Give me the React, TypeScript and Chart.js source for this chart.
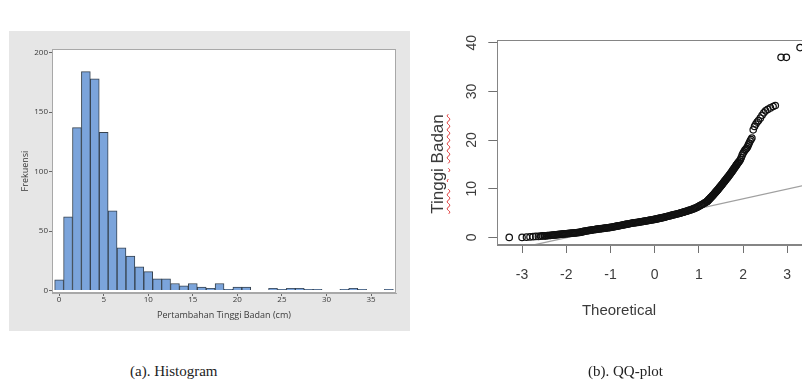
import React, { useEffect, useRef } from "react";
import { Chart, registerables } from "chart.js";

Chart.register(...registerables);

// ---------- Histogram data ----------
const histBinCenters = [
  0, 1, 2, 3, 4, 5, 6, 7, 8, 9,
  10, 11, 12, 13, 14, 15, 16, 17, 18, 19,
  20, 21, 22, 23, 24, 25, 26, 27, 28, 29,
  30, 31, 32, 33, 34, 35, 36, 37,
];
const histCounts = [
  9, 62, 137, 184, 178, 133, 67, 36, 29, 20,
  16, 10, 10, 6, 4, 6, 3, 2, 6, 1,
  3, 3, 0, 0, 2, 1, 2, 2, 1, 1,
  0, 0, 1, 2, 1, 0, 0, 1,
];
const histXTicks = [0, 5, 10, 15, 20, 25, 30, 35];
const histYTicks = [0, 50, 100, 150, 200];

// ---------- QQ-plot data (theoretical quantile, sample value) ----------
const qqTheoretical = [
  // lower tail
  -3.29, -3.0, -2.9, -2.82, -2.75, -2.69, -2.63, -2.58, -2.54,
  // dense body
  -2.5, -2.475, -2.45, -2.425, -2.4, -2.375, -2.35, -2.325, -2.3, -2.275,
  -2.25, -2.225, -2.2, -2.175, -2.15, -2.125, -2.1, -2.075, -2.05, -2.025, -2.0,
  -1.975, -1.95, -1.925, -1.9, -1.875, -1.85, -1.825, -1.8, -1.775, -1.75,
  -1.725, -1.7, -1.675, -1.65, -1.625, -1.6, -1.575, -1.55, -1.525, -1.5,
  -1.475, -1.45, -1.425, -1.4, -1.375, -1.35, -1.325, -1.3, -1.275, -1.25,
  -1.225, -1.2, -1.175, -1.15, -1.125, -1.1, -1.075, -1.05, -1.025, -1.0,
  -0.975, -0.95, -0.925, -0.9, -0.875, -0.85, -0.825, -0.8, -0.775, -0.75,
  -0.725, -0.7, -0.675, -0.65, -0.625, -0.6, -0.575, -0.55, -0.525, -0.5,
  -0.475, -0.45, -0.425, -0.4, -0.375, -0.35, -0.325, -0.3, -0.275, -0.25,
  -0.225, -0.2, -0.175, -0.15, -0.125, -0.1, -0.075, -0.05, -0.025, 0.0,
  0.025, 0.05, 0.075, 0.1, 0.125, 0.15, 0.175, 0.2, 0.225, 0.25,
  0.275, 0.3, 0.325, 0.35, 0.375, 0.4, 0.425, 0.45, 0.475, 0.5,
  0.525, 0.55, 0.575, 0.6, 0.625, 0.65, 0.675, 0.7, 0.725, 0.75,
  0.775, 0.8, 0.825, 0.85, 0.875, 0.9, 0.925, 0.95, 0.975, 1.0,
  1.025, 1.05, 1.075, 1.1, 1.125, 1.15, 1.175,
  // steep rise
  1.1875, 1.2, 1.2125, 1.225, 1.2375, 1.25,
  1.2625, 1.275, 1.2875, 1.3, 1.3125, 1.325, 1.3375, 1.35, 1.3625, 1.375,
  1.3875, 1.4, 1.4125, 1.425, 1.4375, 1.45, 1.4625, 1.475, 1.4875, 1.5,
  1.5125, 1.525, 1.5375, 1.55, 1.5625, 1.575, 1.5875, 1.6,
  1.6125, 1.625, 1.6375, 1.65, 1.6625, 1.675, 1.6875, 1.7,
  1.7125, 1.725, 1.7375, 1.75, 1.7625, 1.775, 1.7875, 1.8,
  1.8125, 1.825, 1.8375, 1.85, 1.8625, 1.875, 1.8875, 1.9,
  // upper tail
  1.92, 1.94, 1.96, 1.98, 2.0, 2.02, 2.04, 2.06, 2.08, 2.1,
  2.12, 2.14, 2.16, 2.18, 2.2, 2.23, 2.26, 2.29, 2.32, 2.35,
  2.39, 2.43, 2.47, 2.51, 2.56, 2.62, 2.68, 2.73, 2.86, 2.98, 3.29,
];
const qqSample = [
  // lower tail
  0, 0, 0.05, 0.1, 0.15, 0.2, 0.2, 0.25, 0.3,
  // dense body
  0.3, 0.32, 0.35, 0.37, 0.4, 0.4, 0.42, 0.45, 0.47, 0.5,
  0.52, 0.55, 0.57, 0.6, 0.62, 0.65, 0.67, 0.7, 0.72, 0.74, 0.75,
  0.78, 0.8, 0.82, 0.85, 0.87, 0.9, 0.9, 0.92, 0.95, 0.97,
  1.0, 1.02, 1.08, 1.13, 1.18, 1.23, 1.28, 1.32, 1.36, 1.4,
  1.44, 1.48, 1.52, 1.55, 1.58, 1.62, 1.65, 1.69, 1.72, 1.75,
  1.78, 1.81, 1.84, 1.87, 1.9, 1.93, 1.96, 1.99, 2.02, 2.05,
  2.09, 2.13, 2.18, 2.22, 2.27, 2.31, 2.36, 2.4, 2.45, 2.5,
  2.54, 2.58, 2.63, 2.67, 2.72, 2.76, 2.81, 2.85, 2.9, 2.95,
  2.98, 3.01, 3.04, 3.07, 3.1, 3.14, 3.18, 3.22, 3.26, 3.3,
  3.34, 3.38, 3.42, 3.46, 3.5, 3.54, 3.58, 3.62, 3.66, 3.7,
  3.75, 3.8, 3.85, 3.9, 3.95, 4.0, 4.05, 4.1, 4.16, 4.22,
  4.28, 4.34, 4.4, 4.46, 4.52, 4.58, 4.63, 4.69, 4.74, 4.8,
  4.86, 4.92, 4.98, 5.05, 5.12, 5.19, 5.26, 5.33, 5.4, 5.47,
  5.54, 5.61, 5.69, 5.77, 5.86, 5.95, 6.05, 6.15, 6.27, 6.4,
  6.52, 6.64, 6.77, 6.9, 7.04, 7.18, 7.33,
  // steep rise
  7.4, 7.5, 7.62, 7.75, 7.87, 8.0,
  8.12, 8.24, 8.36, 8.48, 8.6, 8.72, 8.85, 8.98, 9.11, 9.24,
  9.37, 9.5, 9.63, 9.76, 9.9, 10.04, 10.18, 10.32, 10.46, 10.6,
  10.74, 10.88, 11.02, 11.17, 11.31, 11.46, 11.6, 11.75,
  11.89, 12.03, 12.18, 12.32, 12.47, 12.61, 12.76, 12.9,
  13.06, 13.22, 13.38, 13.55, 13.71, 13.87, 14.04, 14.2,
  14.36, 14.52, 14.69, 14.85, 15.01, 15.17, 15.34, 15.5,
  // upper tail
  15.7, 16.0, 16.4, 16.9, 17.3, 17.6, 17.9, 18.1, 18.3, 18.6,
  19.0, 19.4, 19.8, 20.1, 20.4, 22.1, 22.8, 23.3, 23.7, 24.0,
  24.5, 25.1, 25.6, 26.0, 26.3, 26.6, 26.9, 27.1, 37.0, 37.0, 39.0,
];
const qqLineIntercept = 3.93;
const qqLineSlope = 2.0;
const qqLineXExtent = [-3.7, 3.7];
const qqXTicks = [-3, -2, -1, 0, 1, 2, 3];
const qqYTicks = [0, 10, 20, 30, 40];

const HIST_FONT = '"Open Sans", "DejaVu Sans", sans-serif';
const QQ_FONT = '"Liberation Sans", Arial, sans-serif';

function HistogramChart() {
  const ref = useRef<HTMLCanvasElement | null>(null);
  useEffect(() => {
    if (!ref.current) return;
    const framePlugin = {
      id: "histFrame",
      beforeDraw(chart: any) {
        const { ctx, chartArea: a } = chart;
        ctx.save();
        ctx.fillStyle = "#ffffff";
        ctx.fillRect(a.left, a.top, a.right - a.left, a.bottom - a.top);
        ctx.restore();
      },
      afterDraw(chart: any) {
        const { ctx, chartArea: a } = chart;
        ctx.save();
        ctx.strokeStyle = "#a8a8a8";
        ctx.lineWidth = 1;
        ctx.strokeRect(Math.round(a.left) + 0.5, Math.round(a.top) + 0.5, Math.round(a.right - a.left) - 1, Math.round(a.bottom - a.top) - 1);
        ctx.restore();
      },
    };
    const chart = new Chart(ref.current, {
      type: "bar",
      data: {
        datasets: [
          {
            data: histBinCenters.map((x, i) => ({ x, y: histCounts[i] })),
            backgroundColor: "#7ba4db",
            borderColor: "#36424f",
            borderWidth: { top: 1, left: 1, right: 1, bottom: 0 } as any,
            borderSkipped: false,
            barPercentage: 1,
            categoryPercentage: 1,
          },
        ],
      },
      options: {
        responsive: false,
        animation: false,
        events: [],
        layout: { padding: { top: 18, right: 14, left: 0, bottom: 0 } },
        plugins: { legend: { display: false }, tooltip: { enabled: false } },
        scales: {
          x: {
            type: "linear",
            offset: false,
            min: -0.8,
            max: 37.8,
            afterBuildTicks: (s: any) => {
              s.ticks = histXTicks.map((v) => ({ value: v }));
            },
            afterFit: (s: any) => {
              s.height = 38;
            },
            ticks: { font: { family: HIST_FONT, size: 8 }, color: "#3a3a3a", padding: -1, maxRotation: 0, autoSkip: false },
            grid: { display: true, offset: false, drawOnChartArea: false, drawTicks: true, tickLength: 3, color: "#666" },
            border: { display: true, color: "#a8a8a8" },
            title: {
              display: true,
              text: "Pertambahan Tinggi Badan (cm)",
              font: { family: HIST_FONT, size: 9 },
              color: "#3a3a3a",
              padding: { top: 0, bottom: 10.6 },
            },
          },
          y: {
            type: "linear",
            min: -2,
            max: 203,
            afterBuildTicks: (s: any) => {
              s.ticks = histYTicks.map((v) => ({ value: v }));
            },
            afterFit: (s: any) => {
              s.width = 43;
            },
            ticks: { font: { family: HIST_FONT, size: 8 }, color: "#3a3a3a", padding: 1 },
            grid: { display: true, drawOnChartArea: false, drawTicks: true, tickLength: 3, color: "#666" },
            border: { display: true, color: "#a8a8a8" },
            title: {
              display: true,
              text: "Frekuensi",
              font: { family: HIST_FONT, size: 9 },
              color: "#3a3a3a",
              padding: { top: 10.6, bottom: 0 },
            },
          },
        },
      },
      plugins: [framePlugin],
    } as any);
    return () => chart.destroy();
  }, []);
  return <canvas ref={ref} width={401} height={300} style={{ position: "absolute", left: 0, top: 0, width: 401, height: 300 }} />;
}

function QQChart() {
  const ref = useRef<HTMLCanvasElement | null>(null);
  useEffect(() => {
    if (!ref.current) return;
    const qqPlugin = {
      id: "qqBoxAndLabels",
      afterDraw(chart: any) {
        const { ctx, chartArea: a } = chart;
        ctx.save();
        ctx.strokeStyle = "#858585";
        ctx.lineWidth = 1;
        ctx.strokeRect(Math.round(a.left) + 0.5, Math.round(a.top) + 0.5, Math.round(a.right - a.left) - 1, Math.round(a.bottom - a.top) - 1);
        const y = chart.scales.y;
        ctx.fillStyle = "#3c3c3c";
        ctx.font = `14px ${QQ_FONT}`;
        ctx.textAlign = "center";
        ctx.textBaseline = "middle";
        for (const t of y.ticks) {
          const py = y.getPixelForValue(t.value);
          ctx.save();
          ctx.translate(52, py);
          ctx.rotate(-Math.PI / 2);
          ctx.fillText(String(t.value), 0, 0);
          ctx.restore();
        }
        ctx.restore();
      },
    };
    const chart = new Chart(ref.current, {
      type: "scatter",
      data: {
        datasets: [
          {
            type: "line",
            data: qqLineXExtent.map((x) => ({ x, y: qqLineIntercept + qqLineSlope * x })),
            borderColor: "#a0a0a0",
            borderWidth: 1.3,
            pointRadius: 0,
            fill: false,
            order: 2,
          },
          {
            type: "scatter",
            data: qqTheoretical.map((x, i) => ({ x, y: qqSample[i] })),
            pointStyle: "circle",
            pointRadius: 3.2,
            pointBorderWidth: 1.25,
            borderColor: "#111111",
            backgroundColor: "rgba(0,0,0,0)",
            order: 1,
          },
        ],
      },
      options: {
        responsive: false,
        animation: false,
        events: [],
        layout: { padding: { top: 40, right: 18, left: 0, bottom: 0 } },
        plugins: { legend: { display: false }, tooltip: { enabled: false } },
        scales: {
          x: {
            type: "linear",
            min: -3.56,
            max: 3.56,
            afterBuildTicks: (s: any) => {
              s.ticks = qqXTicks.map((v) => ({ value: v }));
            },
            afterFit: (s: any) => {
              s.height = 95;
            },
            ticks: { font: { family: QQ_FONT, size: 14 }, color: "#3c3c3c", padding: 14, maxRotation: 0, autoSkip: false },
            grid: { display: true, drawOnChartArea: false, drawTicks: true, tickLength: 8, color: "#707070" },
            border: { display: true, color: "#858585" },
          },
          y: {
            type: "linear",
            min: -1.56,
            max: 40.56,
            afterBuildTicks: (s: any) => {
              s.ticks = qqYTicks.map((v) => ({ value: v }));
            },
            afterFit: (s: any) => {
              s.width = 77.3;
            },
            ticks: { display: false },
            grid: { display: true, drawOnChartArea: false, drawTicks: true, tickLength: 9, color: "#707070" },
            border: { display: true, color: "#858585" },
          },
        },
      },
      plugins: [qqPlugin],
    } as any);
    return () => chart.destroy();
  }, []);
  return <canvas ref={ref} width={410} height={340} style={{ position: "absolute", left: 0, top: 0, width: 410, height: 340 }} />;
}

export default function App() {
  const squiggle: React.CSSProperties = {
    textDecorationLine: "underline",
    textDecorationStyle: "wavy",
    textDecorationColor: "#e03030",
    textDecorationThickness: "1px",
    textUnderlineOffset: "3px",
  };
  return (
    <div style={{ position: "absolute", left: 0, top: 0, width: 802, height: 382, background: "#ffffff", overflow: "hidden" }}>
      <div style={{ position: "absolute", left: 9, top: 31, width: 401, height: 300, background: "#e6e6e6" }}>
        <HistogramChart />
      </div>
      <div style={{ position: "absolute", left: 420, top: 0, width: 382, height: 340, overflow: "hidden" }}>
        <QQChart />
      </div>
      <div
        style={{
          position: "absolute",
          left: 438 - 100,
          top: 164 - 10,
          width: 200,
          height: 20,
          lineHeight: "20px",
          textAlign: "center",
          transform: "rotate(-90deg)",
          transformOrigin: "50% 50%",
          fontFamily: QQ_FONT,
          fontSize: 17,
          color: "#3a3a3a",
          whiteSpace: "nowrap",
        }}
      >
        <span style={squiggle}>Tinggi</span> <span style={squiggle}>Badan</span>
      </div>
      <div
        style={{
          position: "absolute",
          left: 619 - 80,
          top: 310 - 10,
          width: 160,
          height: 20,
          lineHeight: "20px",
          textAlign: "center",
          fontFamily: QQ_FONT,
          fontSize: 15,
          color: "#3a3a3a",
        }}
      >
        Theoretical
      </div>
      <div
        style={{
          position: "absolute",
          left: 130,
          top: 364,
          lineHeight: "15px",
          fontFamily: '"Liberation Serif", "Times New Roman", serif',
          fontSize: 15,
          color: "#222",
          whiteSpace: "nowrap",
        }}
      >
        (a). Histogram
      </div>
      <div
        style={{
          position: "absolute",
          left: 588,
          top: 364,
          lineHeight: "15px",
          fontFamily: '"Liberation Serif", "Times New Roman", serif',
          fontSize: 15,
          color: "#222",
          whiteSpace: "nowrap",
        }}
      >
        (b). QQ-plot
      </div>
    </div>
  );
}
